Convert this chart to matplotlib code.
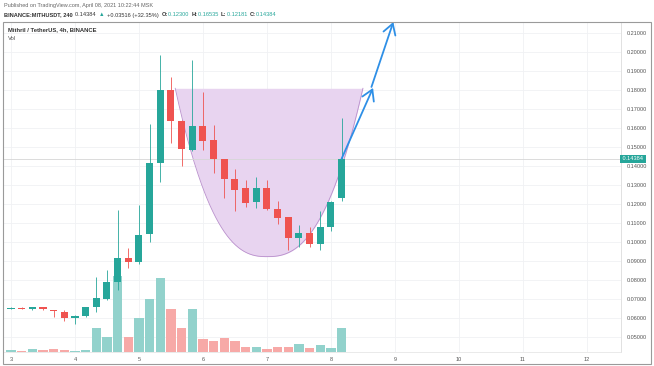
import numpy as np
import matplotlib
matplotlib.use("Agg")
import matplotlib.pyplot as plt
from matplotlib.patches import Rectangle

plt.rcParams['font.family'] = ['Liberation Sans', 'DejaVu Sans']

# 4h candles, index 0 = day 3 00:00
opens = [0.0650, 0.0655, 0.0648, 0.0657, 0.0642, 0.0633, 0.0600, 0.0611, 0.0656, 0.0702,
         0.0788, 0.0917, 0.0897, 0.1042, 0.1414, 0.1800, 0.1637, 0.1484, 0.1611, 0.1537,
         0.1435, 0.1330, 0.1283, 0.1209, 0.1286, 0.1172, 0.1130, 0.1023, 0.1049, 0.0988,
         0.1081, 0.1230]
highs = [0.0658, 0.0657, 0.0660, 0.0659, 0.0644, 0.0642, 0.0614, 0.0660, 0.0818, 0.0853,
         0.1168, 0.0967, 0.1195, 0.1621, 0.1984, 0.1867, 0.1640, 0.1958, 0.1788, 0.1616,
         0.1438, 0.1383, 0.1326, 0.1344, 0.1326, 0.1217, 0.1132, 0.1089, 0.1081, 0.1163,
         0.1215, 0.16535]
lows = [0.0646, 0.0648, 0.0643, 0.0642, 0.0607, 0.0584, 0.0566, 0.0604, 0.0633, 0.0695,
        0.0747, 0.0862, 0.0885, 0.1000, 0.1317, 0.1520, 0.1400, 0.1480, 0.1484, 0.1362,
        0.1230, 0.1163, 0.1186, 0.1181, 0.1170, 0.1095, 0.0958, 0.0975, 0.0975, 0.0958,
        0.1059, 0.12181]
closes = [0.0654, 0.0650, 0.0656, 0.0645, 0.0636, 0.0598, 0.0610, 0.0656, 0.0704, 0.0791,
          0.0914, 0.0894, 0.1037, 0.1414, 0.1800, 0.1637, 0.1488, 0.1611, 0.1533, 0.1435,
          0.1332, 0.1274, 0.1207, 0.1286, 0.1174, 0.1125, 0.1023, 0.1049, 0.0988, 0.1081,
          0.1212, 0.14384]
volumes = [17, 15, 27, 23, 27, 17, 10, 17, 237, 150,
           760, 150, 343, 527, 737, 427, 243, 427, 127, 110,
           143, 110, 53, 53, 33, 53, 53, 77, 43, 67,
           43, 243]
day_labels = ['3', '4', '5', '6', '7', '8', '9', '10', '11', '12']
price_ticks = [0.05, 0.06, 0.07, 0.08, 0.09, 0.10, 0.11, 0.12, 0.13, 0.14,
               0.15, 0.16, 0.17, 0.18, 0.19, 0.20, 0.21]
last_price = 0.14384

# cup drawing (candle index / price)
cup_left, cup_low_x, cup_right = 15.4, 24.0, 33.0
cup_top, cup_bottom = 0.1809, 0.0923
# blue arrows: (x0, y0, x1, y1)
arrow1 = (31.0, 0.14384, 33.95, 0.1811)
arrow2 = (33.8, 0.1816, 35.85, 0.2158)

UP = '#26a69a'
DOWN = '#ef5350'
W, H = 654, 366


def fx(px):
    return px / W


def fy(py):
    return 1 - py / H


fig = plt.figure(figsize=(W / 100, H / 100), dpi=100)
rect = [fx(3), fy(352), fx(621) - fx(3), fy(22) - fy(352)]

ax_vol = fig.add_axes(rect)
ax = fig.add_axes(rect)
ax.patch.set_alpha(0)

x = np.arange(len(opens))
up = [c >= o for o, c in zip(opens, closes)]

vol_colors = ['#92d2cc' if u else '#f7a9a7' for u in up]
ax_vol.bar(x, volumes, width=0.86, color=vol_colors)
ax_vol.set_ylim(0, 3300)
ax_vol.set_xlim(-0.75, 57.2)
ax_vol.axis('off')

ylo, yhi = 0.04211, 0.21579
ax.set_xlim(-0.75, 57.2)
ax.set_ylim(ylo, yhi)

# grid
for d in range(len(day_labels)):
    ax_vol.axvline(d * 6, color='#f0f1f4', lw=0.6, zorder=0)
for p in price_ticks:
    ax_vol.axhline(3300 * (p - ylo) / (yhi - ylo), color='#f0f1f4', lw=0.6, zorder=0)

# cup
xs = np.linspace(cup_left, cup_right, 200)
frac = np.where(xs < cup_low_x, (cup_low_x - xs) / (cup_low_x - cup_left),
                (xs - cup_low_x) / (cup_right - cup_low_x))
ys = cup_bottom + (cup_top - cup_bottom) * frac ** 2.5
ax.fill_between(xs, ys, cup_top, color='#e8d4f0', lw=0, zorder=1)
ax.plot(xs, ys, color='#b98fcc', lw=0.6, zorder=1)

# last price line
ax.axhline(last_price, color='#d6d6d6', lw=0.6, zorder=1)

# candles
colors = [UP if u else DOWN for u in up]
ax.vlines(x, lows, highs, colors=colors, lw=0.6, zorder=3)
bottoms = [min(o, c) for o, c in zip(opens, closes)]
heights = [max(abs(c - o), 0.0004) for o, c in zip(opens, closes)]
ax.bar(x, heights, bottom=bottoms, width=0.66, color=colors, zorder=4)

# arrows
for a in (arrow1, arrow2):
    ax.annotate('', xy=(a[2], a[3]), xytext=(a[0], a[1]),
                arrowprops=dict(arrowstyle='->,head_length=0.75,head_width=0.45',
                                color='#2e8fe6', lw=1.3, shrinkA=0, shrinkB=0),
                annotation_clip=False, zorder=6)

# axes
ax.set_xticks([d * 6 for d in range(len(day_labels))])
ax.set_xticklabels(day_labels, fontsize=4, color='#555555')
ax.tick_params(axis='x', length=0, pad=3.5)
ax.yaxis.tick_right()
ax.set_yticks(price_ticks)
ax.set_yticklabels([f'{p:.5f}' for p in price_ticks], fontsize=4, color='#555555')
ax.tick_params(axis='y', length=0, pad=4)
for s in ['top', 'left']:
    ax.spines[s].set_visible(False)
ax.spines['right'].set_color('#dcdcdc')
ax.spines['bottom'].set_color('#e6e6e6')
ax.spines['right'].set_linewidth(0.6)
ax.spines['bottom'].set_linewidth(0.6)

ax.text(1.0, last_price, ' 0.14384 ', transform=ax.get_yaxis_transform(),
        fontsize=4, color='white', va='center', ha='left',
        bbox=dict(boxstyle='square,pad=0.25', fc=UP, ec='none'))

# outer frame
fig.patches.append(Rectangle((fx(3), fy(364)), fx(651) - fx(3), fy(22) - fy(364),
                             transform=fig.transFigure, fill=False, ec='#9a9a9a', lw=0.8))

# header texts
fig.text(fx(4), fy(6), 'Published on TradingView.com, April 08, 2021 10:22:44 MSK',
         fontsize=4, color='#666666', va='center')
parts = [('BINANCE:MITHUSDT, 240 ', '#333333', 'bold'),
         ('0.14384 ', '#333333', 'normal'),
         ('\u25b2 ', UP, 'normal'),
         ('+0.03516 (+32.35%) ', '#333333', 'normal'),
         ('O:', '#333333', 'bold'),
         ('0.12300 ', UP, 'normal'),
         ('H:', '#333333', 'bold'),
         ('0.16535 ', UP, 'normal'),
         ('L:', '#333333', 'bold'),
         ('0.12181 ', UP, 'normal'),
         ('C:', '#333333', 'bold'),
         ('0.14384', UP, 'normal')]
renderer = fig.canvas.get_renderer()
cur = 4
for s, c, wt in parts:
    t = fig.text(fx(cur), fy(15), s, fontsize=4.1, color=c, weight=wt, va='center')
    bb = t.get_window_extent(renderer=renderer)
    cur += bb.width + (1.2 if s.endswith(' ') else 0.3)

fig.text(fx(8), fy(30), 'Mithril / TetherUS, 4h, BINANCE', fontsize=4.2,
         color='#333333', weight='bold', va='center')
fig.text(fx(8), fy(39), 'Vol', fontsize=4.2, color='#555555', va='center')

fig.savefig('out.png', dpi=100)
